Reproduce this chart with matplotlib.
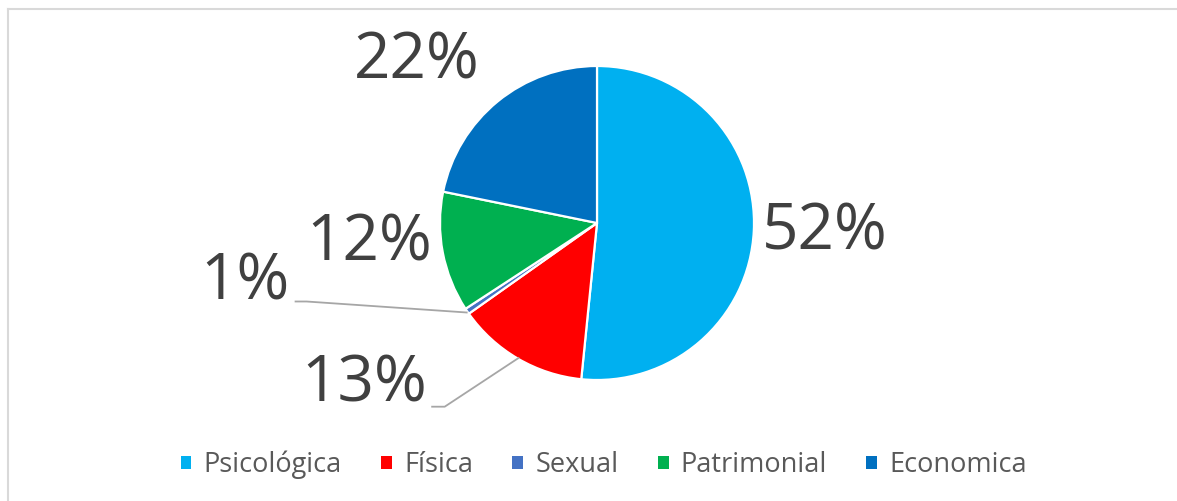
import matplotlib.pyplot as plt
from matplotlib.lines import Line2D

plt.rcParams['font.family'] = ['Open Sans', 'DejaVu Sans']

# Datos
categorias = ['Psicológica', 'Física', 'Sexual', 'Patrimonial', 'Economica']
valores = [51.6, 13.6, 0.6, 12.4, 21.8]
etiquetas = ['52%', '13%', '1%', '12%', '22%']
colores = ['#00B0F0', '#FF0000', '#4472C4', '#00B050', '#0070C0']

# posiciones de las etiquetas (en radios del pastel)
pos_etiquetas = [(1.45, -0.06), (-1.48, -1.03), (-2.24, -0.38), (-1.45, -0.13), (-1.15, 1.03)]

fig = plt.figure(figsize=(11.77, 5.01), dpi=100)
ax = fig.add_axes([0, 0, 1, 1])

wedges, _ = ax.pie(valores, colors=colores, startangle=90, counterclock=False,
                   wedgeprops=dict(edgecolor='white', linewidth=1.6))

# escala: 1 radio = 157 px, centro en (597, 223) px
r = 157.0
ax.set_xlim(-597 / r, (1177 - 597) / r)
ax.set_ylim(-(501 - 223) / r, 223 / r)
ax.set_aspect('auto')

for txt, (x, y) in zip(etiquetas, pos_etiquetas):
    ax.text(x, y, txt, fontsize=46, color='#404040', ha='center', va='center')

# lineas guia
gris = '#A6A6A6'
ax.plot([-1.92, -1.85, -0.83], [-0.50, -0.50, -0.57], color=gris, lw=1.3)
ax.plot([-1.05, -0.97, -0.50], [-1.17, -1.17, -0.86], color=gris, lw=1.3)

leg = ax.legend(wedges, categorias, ncol=5, loc='center', bbox_to_anchor=(0.513, 0.072),
                frameon=False, fontsize=19.5, handlelength=0.4, handleheight=0.4,
                handletextpad=0.45, columnspacing=1.45)
for t in leg.get_texts():
    t.set_color('#595959')
for h in leg.legend_handles:
    h.set_edgecolor('none')

# borde del grafico
borde = '#D9D9D9'
fig.add_artist(Line2D([8 / 1177, 8 / 1177], [0, 1 - 9 / 501], color=borde, lw=1.5,
                      transform=fig.transFigure))
fig.add_artist(Line2D([8 / 1177, 1], [1 - 9 / 501, 1 - 9 / 501], color=borde, lw=1.5,
                      transform=fig.transFigure))

fig.savefig('out.png', dpi=100)
